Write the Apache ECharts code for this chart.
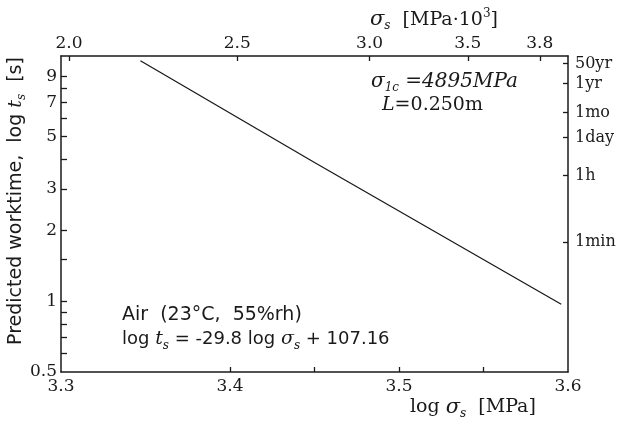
<!DOCTYPE html>
<html><head><meta charset="utf-8">
<script src="https://cdn.jsdelivr.net/npm/echarts@6/dist/echarts.min.js"></script>
<style>html,body{margin:0;padding:0;background:#fff}#c{width:619px;height:424px}</style>
</head><body><div id="c"></div>
<script>
// Data
const logSigma = [3.347, 3.45, 3.596];          // log σs [MPa]
const logTs = [10.5, 3.88, 0.97];               // predicted worktime, log ts [s]
const bottomLabels = [3.3, 3.4, 3.5, 3.6];
const bottomTicks = [3.4, 3.45, 3.5, 3.55];
const topLabels = ['2.0', '2.5', '3.0', '3.5', '3.8'];   // σs [MPa·10^3]
const topPositions = [3.3047, 3.4043, 3.4826, 3.5407, 3.5833];
const leftLabels = [0.5, 1, 2, 3, 5, 7, 9];
const leftTicks = [0.6, 0.7, 0.8, 0.9, 1, 1.5, 2, 3, 4, 5, 6, 7, 8, 9];
const rightLabels = ['50yr', '1yr', '1mo', '1day', '1h', '1min'];
const rightPositions = [10.2, 8.4, 6.33, 4.95, 3.42, 1.78];

const SERIF = 'DejaVu Serif';
const SANS = 'DejaVu Sans';
const INK = '#1a1a1a';

function nearestIdx(arr, v) {
  let best = 0;
  for (let i = 1; i < arr.length; i++) if (Math.abs(arr[i] - v) < Math.abs(arr[best] - v)) best = i;
  return best;
}

const axLine = { show: true, lineStyle: { color: INK, width: 1.5 } };
const LH = 24;
function rt(fam, size, italic, va) {
  const o = { fontFamily: fam, fontSize: size, fill: INK, color: INK, lineHeight: LH };
  if (italic) o.fontStyle = 'italic';
  if (va) o.verticalAlign = va;
  return o;
}

const chart = echarts.init(document.getElementById('c'), null, { renderer: 'canvas' });
chart.setOption({
  animation: false,
  backgroundColor: '#fff',
  grid: { left: 61, right: 51, top: 56, bottom: 52, containLabel: false, outerBoundsMode: 'none' },
  xAxis: [
    {
      type: 'value', position: 'bottom', min: 3.3, max: 3.6,
      axisLine: axLine, splitLine: { show: false },
      axisTick: { inside: true, length: 5, customValues: bottomTicks, lineStyle: { color: INK, width: 1.3 } },
      axisLabel: { customValues: bottomLabels, formatter: v => v.toFixed(1), margin: 6,
        fontFamily: SERIF, fontSize: 17, color: INK }
    },
    {
      type: 'value', position: 'top', min: 3.3, max: 3.6,
      axisLine: axLine, splitLine: { show: false },
      axisTick: { inside: true, length: 5, customValues: topPositions, lineStyle: { color: INK, width: 1.3 } },
      axisLabel: { customValues: topPositions, formatter: v => topLabels[nearestIdx(topPositions, v)], margin: 4,
        fontFamily: SERIF, fontSize: 17, color: INK }
    }
  ],
  yAxis: [
    {
      type: 'log', logBase: 10, min: 0.5, max: 11, position: 'left',
      axisLine: axLine, splitLine: { show: false }, minorTick: { show: false },
      axisTick: { inside: true, length: 6, customValues: leftTicks, lineStyle: { color: INK, width: 1.3 } },
      axisLabel: { customValues: leftLabels, formatter: v => String(leftLabels[nearestIdx(leftLabels, v)]), margin: 4,
        fontFamily: SERIF, fontSize: 17, color: INK }
    },
    {
      type: 'log', logBase: 10, min: 0.5, max: 11, position: 'right',
      axisLine: axLine, splitLine: { show: false }, minorTick: { show: false },
      axisTick: { inside: true, length: 5, customValues: rightPositions, lineStyle: { color: INK, width: 1.3 } },
      axisLabel: { customValues: rightPositions, formatter: v => rightLabels[nearestIdx(rightPositions, v)], margin: 7,
        fontFamily: SERIF, fontSize: 16, color: INK }
    }
  ],
  series: [{
    type: 'line', xAxisIndex: 0, yAxisIndex: 0, symbol: 'none', silent: true,
    lineStyle: { color: INK, width: 1.3 },
    data: logSigma.map((x, i) => [x, logTs[i]])
  }],
  graphic: [
    { type: 'text', x: 16, y: 201, rotation: Math.PI / 2, style: {
      text: '{t|Predicted worktime,  log }{i|t}{sub|s}{t|  [s]}',
      align: 'center', verticalAlign: 'middle',
      rich: { t: rt(SANS, 19), i: rt(SERIF, 19, true), sub: rt(SERIF, 12, true, 'bottom') } } },
    { type: 'text', left: 370, top: 8, style: {
      text: '{i|σ}{sub|s}{t|  [MPa·10}{sup|3}{t|]}',
      rich: { i: rt(SERIF, 21, true), sub: rt(SERIF, 12, true, 'bottom'), t: rt(SERIF, 19), sup: rt(SERIF, 12, false, 'top') } } },
    { type: 'text', left: 410, top: 397, style: {
      text: '{t|log }{i|σ}{sub|s}{t|  [MPa]}',
      rich: { i: rt(SERIF, 21, true), sub: rt(SERIF, 12, true, 'bottom'), t: rt(SERIF, 19) } } },
    { type: 'text', left: 371, top: 72, style: {
      text: '{i|σ}{sub|1c}{i| =4895MPa}',
      rich: { i: rt(SERIF, 20, true), sub: rt(SERIF, 12, true, 'bottom') } } },
    { type: 'text', left: 382, top: 96, style: {
      text: '{i|L}{t|=0.250m}',
      rich: { i: rt(SERIF, 19, true), t: rt(SERIF, 19) } } },
    { type: 'text', left: 122, top: 306, style: {
      text: '{t|Air  (23°C,  55%rh)}',
      rich: { t: rt(SANS, 19) } } },
    { type: 'text', left: 122, top: 330, style: {
      text: '{t|log }{i|t}{sub|s}{t| = -29.8 log }{i|σ}{sub|s}{t| + 107.16}',
      rich: { t: rt(SANS, 18), i: rt(SERIF, 19, true), sub: rt(SERIF, 12, true, 'bottom') } } }
  ]
});
</script>
</body></html>
